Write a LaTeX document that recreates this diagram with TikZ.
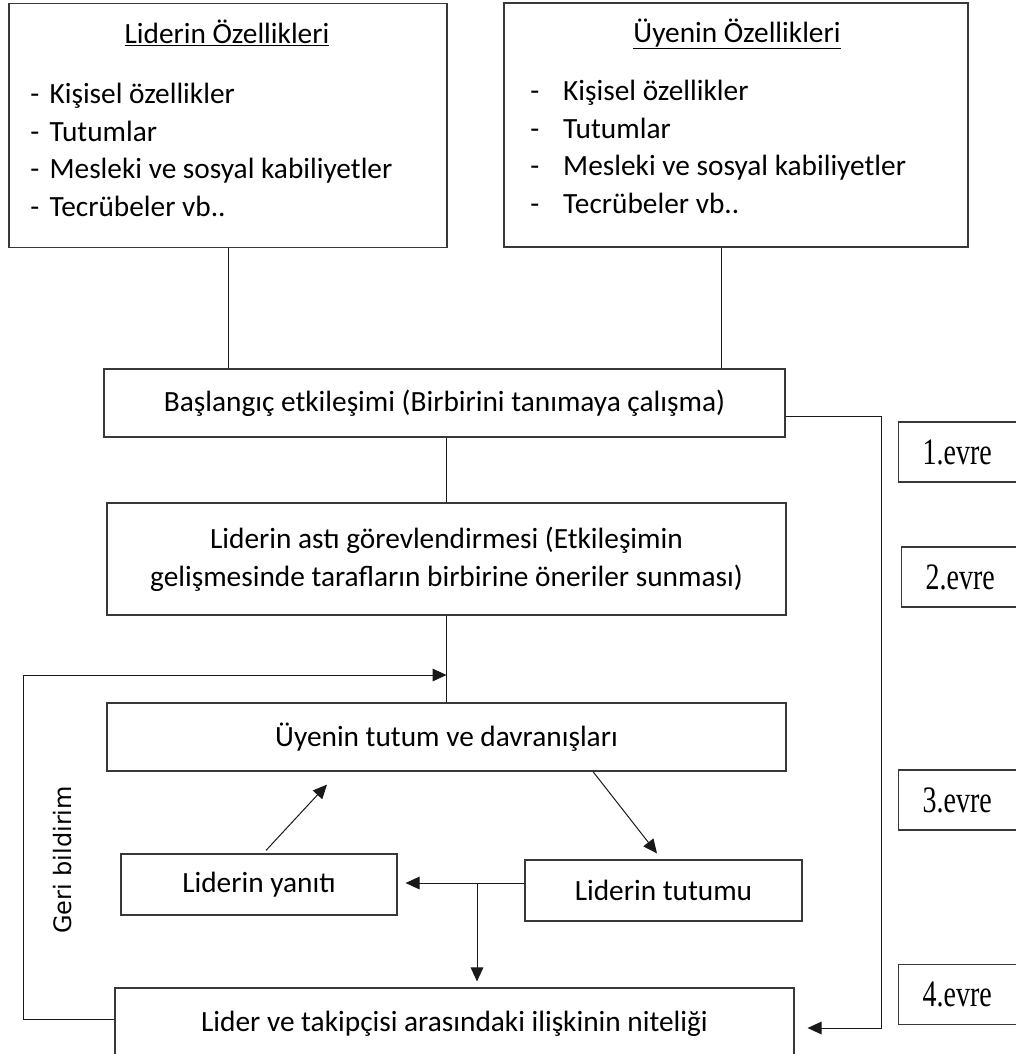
\documentclass[tikz,border=0pt]{standalone}
\usepackage{fontspec}
\setmainfont{Carlito}
\newfontfamily\evrefont{Liberation Serif}
\newfontfamily\gerifont{DejaVu Sans}
\usetikzlibrary{arrows.meta,calc}

\begin{document}
\begin{tikzpicture}[
  x=0.75pt, y=-0.75pt,
  font=\fontsize{22pt}{28.5pt}\selectfont,
  wh/.style 2 args={minimum width=#1*0.75pt, minimum height=#2*0.75pt},
  box/.style={draw=black!78, line width=0.9pt, inner sep=0pt, align=center},
  evrebox/.style={draw=black!78, line width=0.9pt, anchor=west,
    minimum height=60*0.75pt, inner ysep=0pt, inner xsep=24*0.75pt,
    text width=100*0.75pt, align=left,
    font=\evrefont\fontsize{28pt}{30pt}\selectfont},
  item/.style={anchor=base west, inner sep=0pt},
  conn/.style={line width=0.75pt, black!90},
  arr/.style={conn, -{Triangle[length=10.5pt, width=9.5pt]}}
]
\useasboundingbox (0,0) rectangle (1016,1054);
\clip (0,0) rectangle (1016,1054);

% --- characteristics of leader and member ---
\node[box, wh={438}{244}] (lb) at (228,125.5) {};
\node[box, wh={464}{244}] (rb) at (736,125) {};

\node[anchor=base, inner sep=0pt] (lbt) at (227,43) {\underline{Liderin Özellikleri}};
\node[anchor=base, inner sep=0pt] (rbt) at (737,42) {\underline{Üyenin Özellikleri}};

\foreach \txt [count=\i] in {Kişisel özellikler, Tutumlar,
    Mesleki ve sosyal kabiliyetler, Tecrübeler vb..}{
  \node[item] (li\i) at (30,65.5+37.8*\i) {\makebox[14.5pt][l]{-}\txt};
  \node[item] (ri\i) at (530,62.5+37.8*\i) {\makebox[24.75pt][l]{-}\txt};
}

% --- process stages ---
\node[box, wh={681}{68}] (bas) at (444.5,403)
  {Başlangıç etkileşimi (Birbirini tanımaya çalışma)};
\node[box, wh={679}{112}] (ast) at (446.5,559)
  {Liderin astı görevlendirmesi (Etkileşimin\\
   gelişmesinde tarafların birbirine öneriler sunması)};
\node[box, wh={679}{68}] (uye) at (446.5,737)
  {Üyenin tutum ve davranışları};
\node[box, wh={276}{61}] (yan) at (259,884.5) {Liderin yanıtı};
\node[box, wh={277}{61}] (tut) at (663.5,890.5) {Liderin tutumu};
% the last box runs past the lower edge of the figure
\node[box, wh={679}{72}] (bot) at (454.5,1024)
  {Lider ve takipçisi arasındaki ilişkinin niteliği};

% --- phase labels ---
\node[evrebox] (e1) at (898,452) {\scalebox{0.75}[1]{1.evre}};
\node[evrebox] (e2) at (901,577) {\scalebox{0.75}[1]{2.evre}};
\node[evrebox] (e3) at (898,800) {\scalebox{0.75}[1]{3.evre}};
\node[evrebox] (e4) at (898,994.5) {\scalebox{0.75}[1]{4.evre}};

% --- feedback label ---
\node[rotate=90, inner sep=0pt, font=\gerifont\fontsize{18pt}{20pt}\selectfont]
  (geri) at (63,860) {Geri bildirim};

% --- connectors ---
\draw[conn] (lb.south) -- (lb.south |- bas.north);
\draw[conn] ($(rb.south)+(-15,0)$) -- ($(rb.south |- bas.north)+(-15,0)$);
\draw[conn] (ast.north |- bas.south) -- (ast.north);
\draw[conn] (ast.south) -- (uye.north);

% feedback loop
\coordinate (fl) at (23,1019);
\coordinate (fb) at (23,675);
\draw[arr] (bot.west |- fl) -- (fl) -- (fb) -- (ast.south |- fb);

% phase line on the right
\coordinate (rc) at (881,1028);
\draw[arr] ($(bas.east)+(0,13)$) -| (rc) -- ($(bot.east |- rc)+(13,0)$);

% inner cycle
\draw[arr] ($(uye.south)+(146.5,0)$) -- ($(tut.north)+(-6.5,-6)$);
\draw[arr] ($(yan.north)+(7,-3)$) -- ($(uye.south)+(-119.5,13)$);
\coordinate (j) at (477,883);
\draw[arr] (tut.west |- j) -- ($(yan.east |- j)+(8,0)$);
\draw[arr] (j) -- ($(j |- bot.north)+(0,-6)$);
\end{tikzpicture}
\end{document}
